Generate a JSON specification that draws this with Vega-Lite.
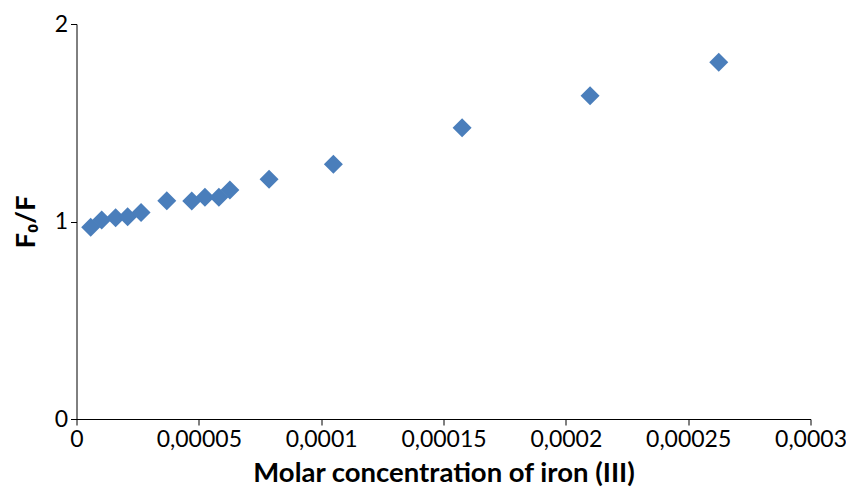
{
  "$schema": "https://vega.github.io/schema/vega-lite/v6.json",
  "width": 734,
  "height": 395,
  "autosize": "none",
  "padding": {"left": 76.5, "top": 24, "right": 35.5, "bottom": 70},
  "background": "white",
  "config": {"view": {"stroke": null}, "font": "Lato"},
  "data": {
    "values": [
      {"c": 0.0000058, "r": 0.971},
      {"c": 0.0000103, "r": 1.008},
      {"c": 0.0000160, "r": 1.019},
      {"c": 0.0000209, "r": 1.024},
      {"c": 0.0000264, "r": 1.045},
      {"c": 0.0000369, "r": 1.105},
      {"c": 0.0000471, "r": 1.104},
      {"c": 0.0000525, "r": 1.123},
      {"c": 0.0000582, "r": 1.123},
      {"c": 0.0000627, "r": 1.159},
      {"c": 0.0000787, "r": 1.214},
      {"c": 0.0001050, "r": 1.290},
      {"c": 0.0001576, "r": 1.475},
      {"c": 0.0002099, "r": 1.637},
      {"c": 0.0002625, "r": 1.806}
    ]
  },
  "mark": {"type": "point", "shape": "diamond", "filled": true, "size": 361, "color": "#4A7EBB", "opacity": 1},
  "encoding": {
    "x": {
      "field": "c", "type": "quantitative",
      "scale": {"domain": [0, 0.0003], "nice": false, "zero": true},
      "axis": {
        "values": [0, 0.00005, 0.0001, 0.00015, 0.0002, 0.00025, 0.0003],
        "labelExpr": "replace(format(datum.value, '.5~f'), '.', ',')",
        "labelOverlap": false, "labelFlush": false,
        "grid": false, "domainColor": "#000000", "tickColor": "#000000", "tickSize": 6,
        "labelFont": "Lato", "labelFontSize": 23, "labelColor": "#000000", "labelPadding": 3,
        "title": "Molar concentration of iron (III)",
        "titleFont": "Lato", "titleFontSize": 27.5, "titleFontWeight": "bold", "titleColor": "#000000", "titlePadding": 8
      }
    },
    "y": {
      "field": "r", "type": "quantitative",
      "scale": {"domain": [0, 2], "nice": false},
      "axis": {
        "values": [0, 1, 2],
        "labelExpr": "format(datum.value, 'd')",
        "labelOverlap": false, "labelFlush": false,
        "grid": false, "domainColor": "#000000", "tickColor": "#000000", "tickSize": 6,
        "labelFont": "Lato", "labelFontSize": 23, "labelColor": "#000000", "labelPadding": 3,
        "title": "F₀/F",
        "titleFont": "Lato", "titleFontSize": 27.5, "titleFontWeight": "bold", "titleColor": "#000000", "titlePadding": 14
      }
    }
  }
}
